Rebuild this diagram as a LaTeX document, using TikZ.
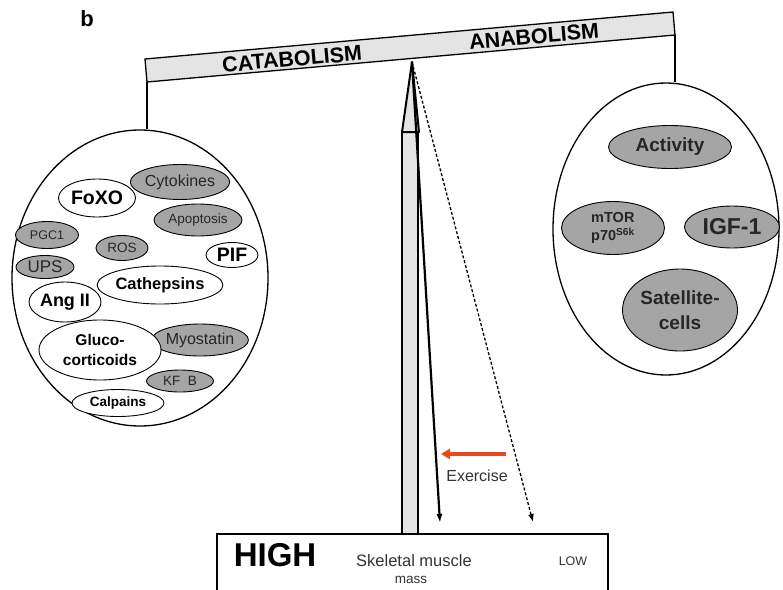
\documentclass[tikz,border=0pt]{standalone}
\usepackage{fontspec}
\setmainfont{Liberation Sans}
\usepackage{tikz}
\usetikzlibrary{arrows.meta,positioning,shapes.geometric}
\usepackage{xcolor}
\definecolor{itemgrey}{RGB}{165,165,165}
\definecolor{beamgrey}{RGB}{228,228,228}
\definecolor{exred}{RGB}{232,72,30}
\newcommand{\sz}[1]{\fontsize{#1}{\fpeval{1.3*#1}}\selectfont}

\begin{document}
\begin{tikzpicture}[x=1pt, y=-1pt,
  item/.style={draw, ellipse, inner sep=0pt, line width=0.9pt, align=center},
  greyitem/.style={item, fill=itemgrey, text=black!85},
  whiteitem/.style={item, fill=white, font=\bfseries},
  pan/.style={draw, ellipse, line width=1.3pt, inner sep=0pt},
  post/.style={line width=2pt, line join=round, fill=beamgrey}]
\useasboundingbox (0,0) rectangle (783,589);

\node[font=\bfseries\sz{22}] (panel) at (87,19) {b};

% balance beam
\coordinate (beamL) at (147,82);
\coordinate (beamR) at (675,35);
\coordinate (pivot) at (412,62);
\draw[line width=1.3pt, fill=beamgrey] (145,59) -- (673,12) -- (beamR) -- (beamL) -- cycle;
\node[font=\bfseries\sz{21.5}, rotate=5.1] (catlabel) at (292,59) {CATABOLISM};
\node[font=\bfseries\sz{21.5}, rotate=5.1] (anlabel) at (534,36.5) {ANABOLISM};

% pans
\node[pan, minimum width=256, minimum height=296] (catab) at (140,278) {};
\node[pan, minimum width=226, minimum height=292] (anab) at (666,229) {};
\draw[line width=1.3pt] (beamL) -- (beamL |- catab.north);
\draw[line width=1.3pt] (beamR) -- (beamR |- anab.north);

% catabolic factors
\node[greyitem, minimum width=92, minimum height=35, font=\sz{16}] (cyto) at (180,182) {Cytokines};
\node[whiteitem, minimum width=77, minimum height=38, font=\bfseries\sz{19.5}] (foxo) at (97,198) {FoXO};
\node[greyitem, minimum width=88, minimum height=32, font=\sz{13.5}] (apop) at (198,220) {Apoptosis};
\node[greyitem, minimum width=63, minimum height=27, font=\sz{12.5}] (pgc) at (47,235) {PGC1};
\node[greyitem, minimum width=52, minimum height=25, font=\sz{13.5}] (ros) at (122,248) {ROS};
\node[whiteitem, minimum width=52, minimum height=25, font=\bfseries\sz{19.5}] (pif) at (232,255) {PIF};
\node[greyitem, minimum width=58, minimum height=23, font=\sz{17}] (ups) at (45,267) {UPS};
\node[whiteitem, minimum width=122, minimum height=38, font=\bfseries\sz{16.5}] (cath) at (160,285) {Cathepsins};
\node[whiteitem, minimum width=72, minimum height=40, font=\bfseries\sz{18}] (ang) at (65,302) {Ang II};
\node[greyitem, minimum width=85, minimum height=32, font=\sz{16}] (myo) at (200,340) {Myostatin};
\node[whiteitem, minimum width=122, minimum height=60, font=\bfseries\sz{15.5}] (gluco) at (100,350) {Gluco-\\corticoids};
\node[greyitem, minimum width=67, minimum height=22, font=\sz{13.5}] (kfb) at (180,381) {KF\ \ B};
\node[whiteitem, minimum width=92, minimum height=27, font=\bfseries\sz{13.5}] (calp) at (118,403) {Calpains};

% anabolic factors
\node[greyitem, minimum width=123, minimum height=43, font=\bfseries\sz{19}] (act) at (670,147) {Activity};
\node[greyitem, minimum width=103, minimum height=53, font=\bfseries\sz{14.5}, align=left] (mtor) at (613,228) {mTOR\\p70\textsuperscript{S6k}};
\node[greyitem, minimum width=95, minimum height=42, font=\bfseries\sz{23}] (igf) at (732,227) {IGF-1};
\node[greyitem, minimum width=115, minimum height=82, font=\bfseries\sz{19}] (sat) at (680,310) {Satellite-\\cells};

% post and pointers
\draw[post] (402,534) -- (402,132) -- (418,132) -- (418,534);
\draw[post] (pivot) -- (402,132) -- (419,132) -- cycle;
\coordinate (solidtip) at (440,523);
\coordinate (dashtip) at (533,522);
\draw[line width=2.2pt, -{Latex[length=9pt,width=6pt]}] (pivot) -- (solidtip);
\draw[line width=1.3pt, dash pattern=on 3pt off 2pt, -{Latex[length=8pt,width=6pt]}] (pivot) -- (dashtip);

% exercise shift
\coordinate (exstart) at (506,454);
\coordinate (exend) at (441,454);
\draw[line width=3.5pt, exred, -{Triangle[length=9pt,width=10pt]}] (exstart) -- (exend);
\node[font=\sz{16}, text=black!80] (exlabel) at (477,476) {Exercise};

% muscle mass scale
\coordinate (boxL) at (217,592);
\coordinate (boxR) at (608,592);
\draw[line width=1.8pt] (boxL) -- (217,534) -- (608,534) -- (boxR);
\node[font=\bfseries\sz{33}] (high) at (275,555) {HIGH};
\node[font=\sz{16.5}, text=black!80] (skel) at (414,561) {Skeletal muscle};
\node[font=\sz{13.5}, text=black!80, inner sep=1pt] (mass) at (411,580) {mass};
\node[font=\sz{12.5}, text=black!80] (low) at (573,561) {LOW};
\end{tikzpicture}
\end{document}
